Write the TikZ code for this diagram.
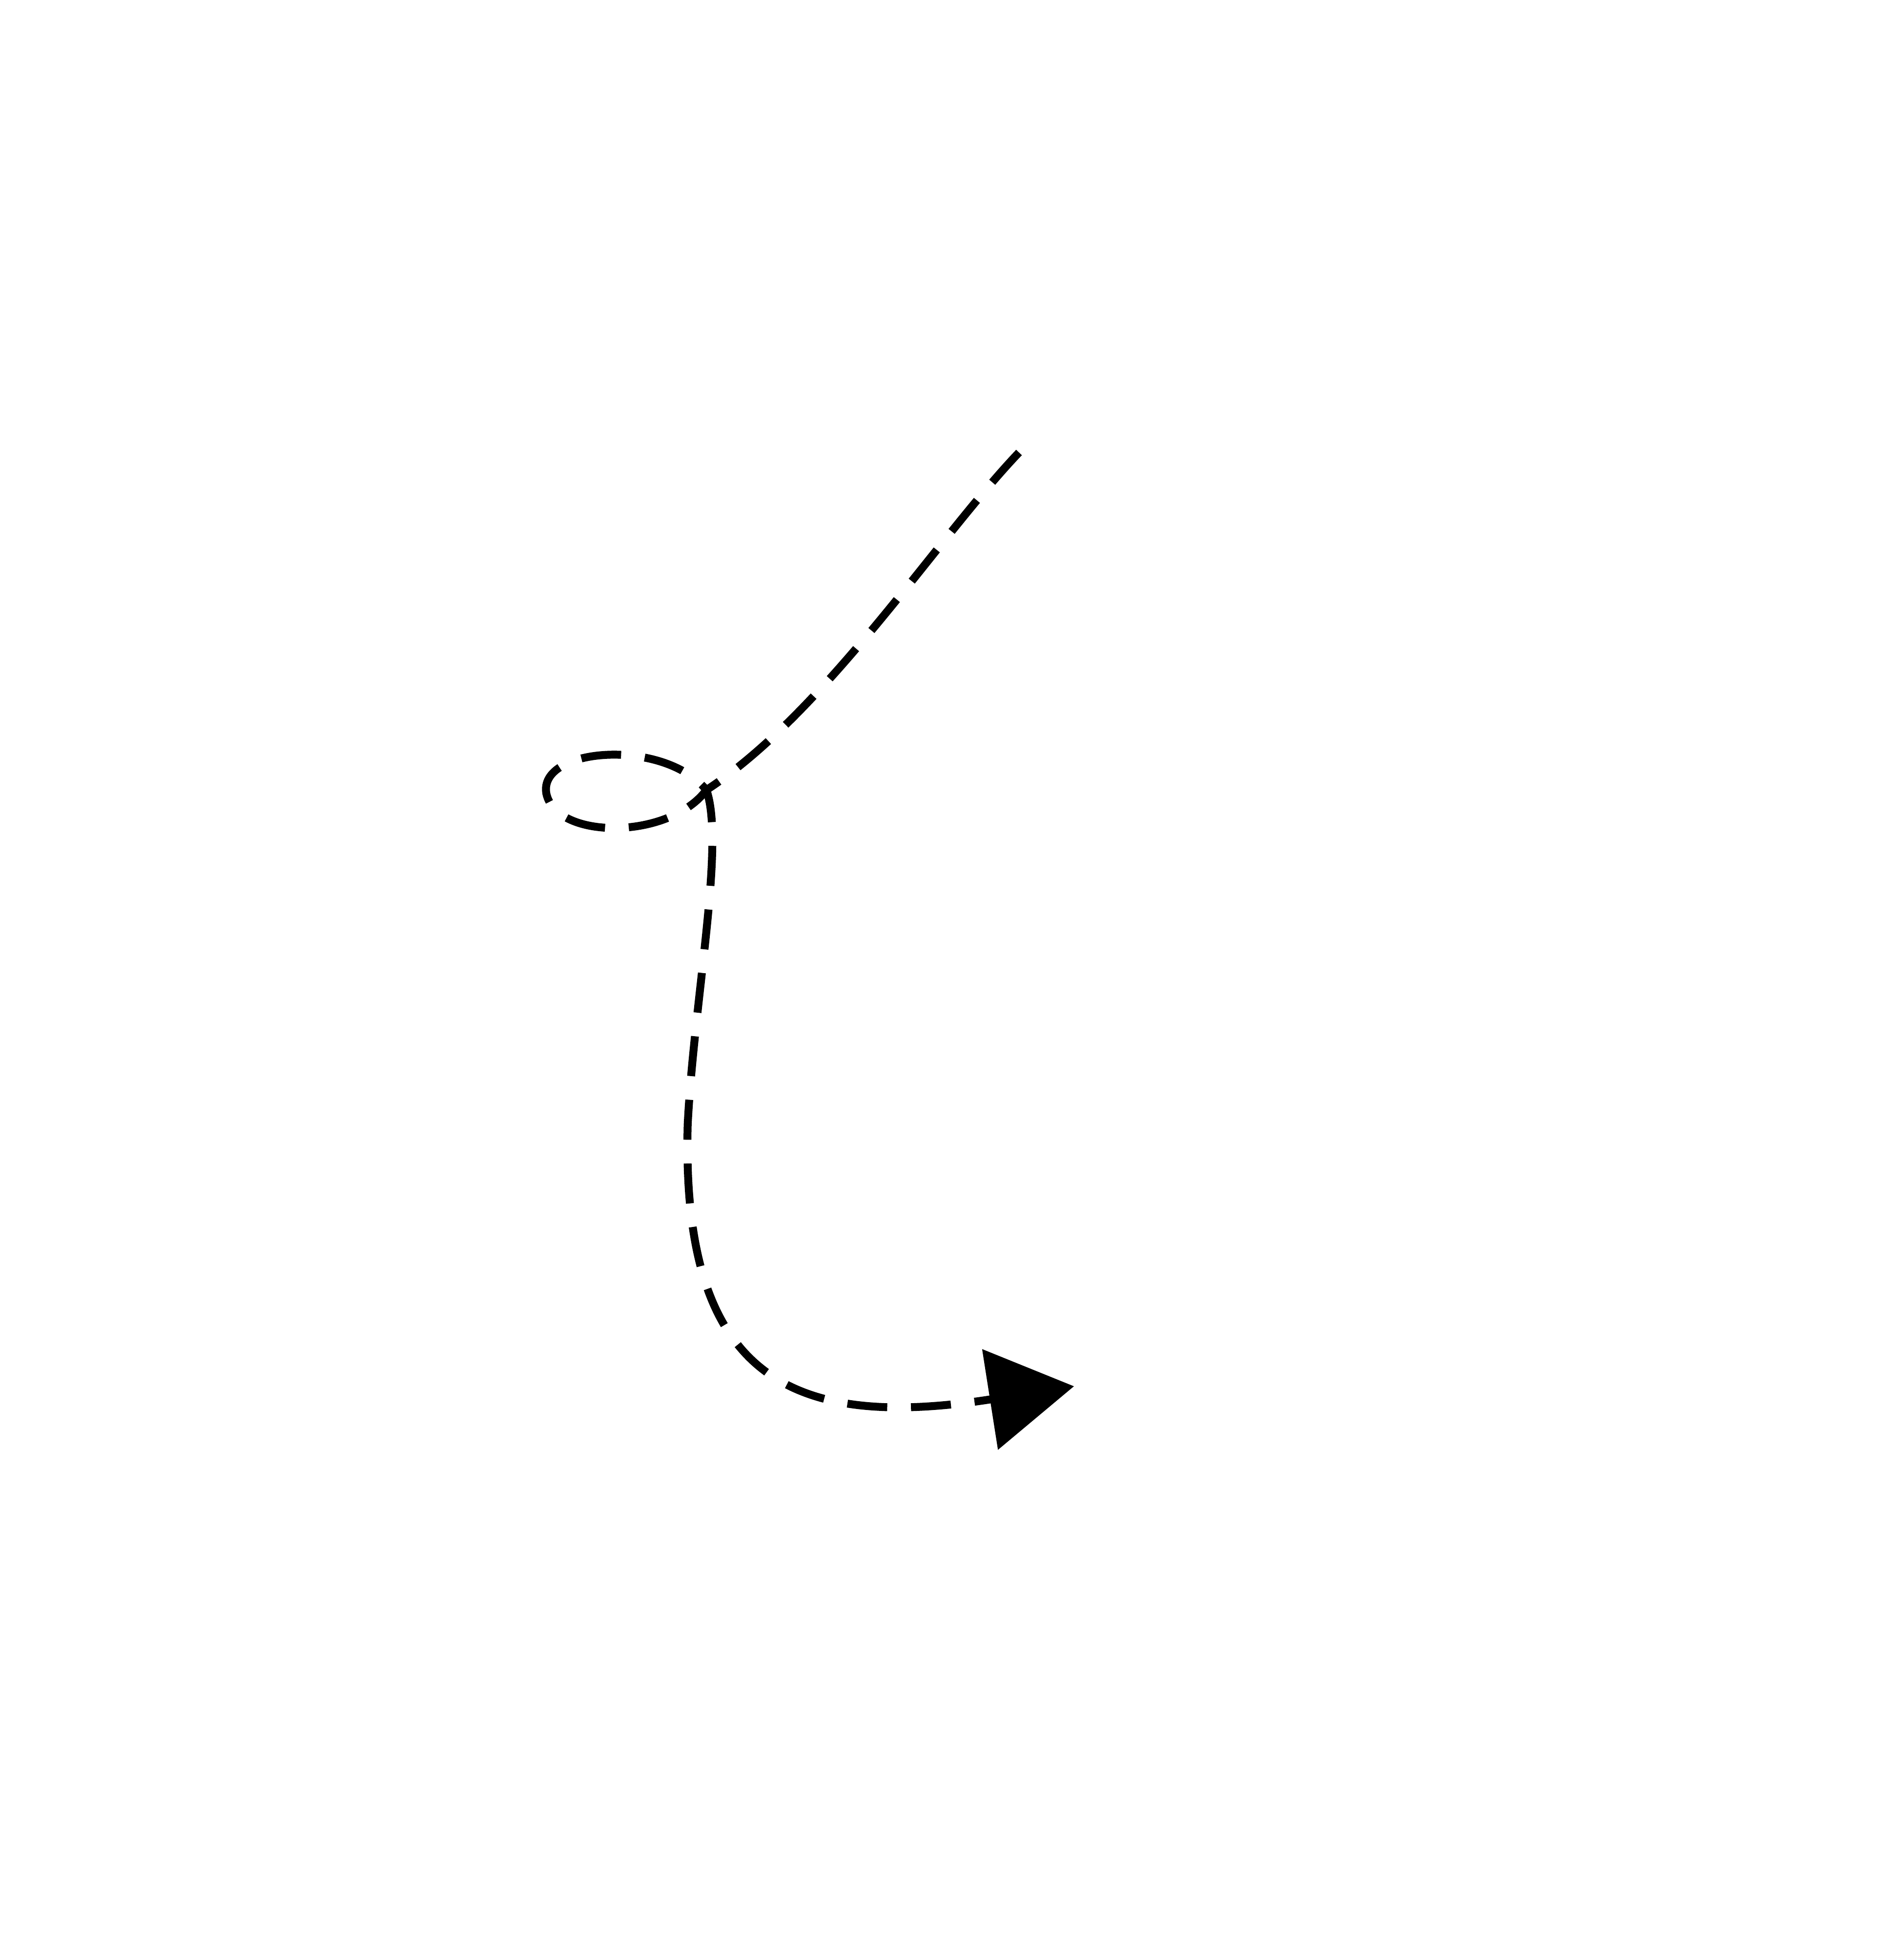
\documentclass[tikz,border=0pt]{standalone}
\usepackage{tikz}
\usetikzlibrary{arrows.meta}
\tikzset{
  % Thick dashed trail ending in a large filled head.
  trail/.style = {black, line width=1.8pt, dash pattern=on 3.2mm off 1.9mm,
                  -{Triangle[length=6.8mm, width=8mm]}},
}
\begin{document}
\begin{tikzpicture}[x=1cm,y=1cm]
\useasboundingbox (0,0) rectangle (15.17,-15.68);
\coordinate (start) at (8.15,-3.62);
\coordinate (knot)  at (5.65,-6.32);
\coordinate (west)  at (4.37,-6.35);
\coordinate (bend)  at (5.50,-9.00);
\coordinate (tip)   at (8.59,-11.09);
% line in, small loop, then down and round to the head
\draw[trail] (start) .. controls (7.50,-4.30) and (6.60,-5.70) .. (knot)
      .. controls (5.35,-6.72) and (4.45,-6.72) .. (west)
      .. controls (4.30,-5.98) and (5.30,-5.90) .. (knot)
      .. controls (5.80,-6.75) and (5.55,-8.00) .. (bend)
      .. controls (5.45,-11.0) and (6.30,-11.45) .. (tip);
\end{tikzpicture}
\end{document}
